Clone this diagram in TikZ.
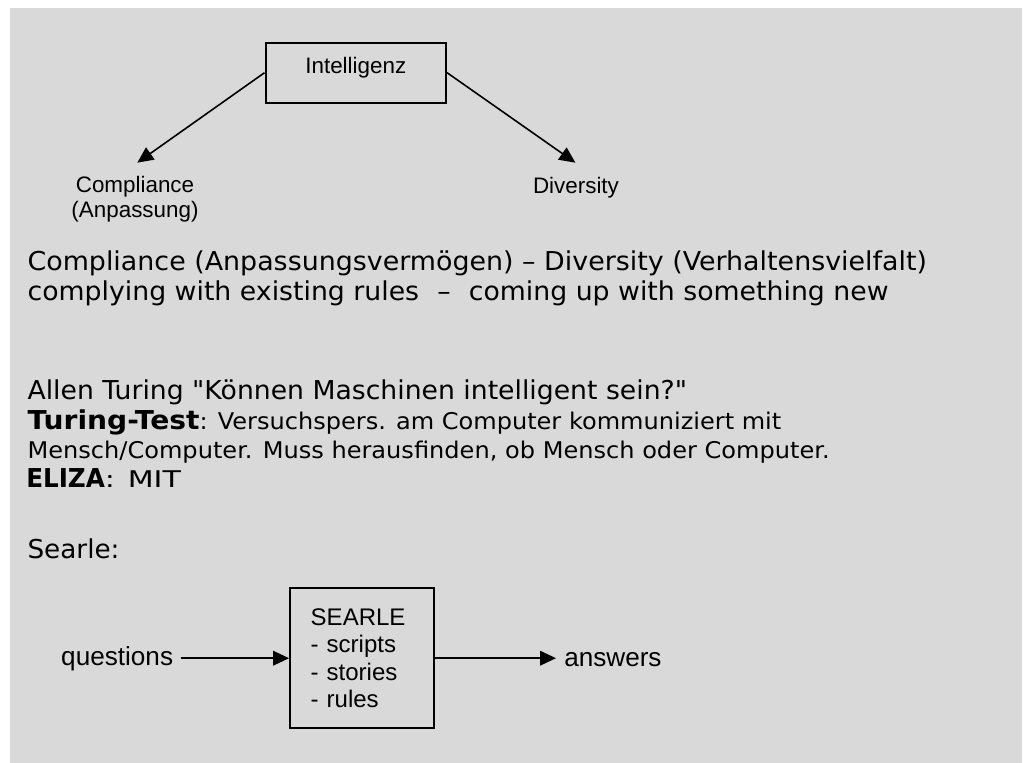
\documentclass[tikz,border=0pt]{standalone}
\usepackage{fontspec}
\usepackage{graphicx}
\usetikzlibrary{arrows.meta}
\newfontfamily\verd{DejaVu Sans}
\newfontfamily\arialf{Liberation Sans}
\definecolor{panel}{RGB}{217,217,217}
% one screen pixel
\newdimen\pxu \pxu=0.75pt
% stretch a run of text to a given width (in pixels), keeping its height
\newcommand\fitw[2]{\resizebox{#1\pxu}{\height}{#2}}
\newcommand\bigtxt{\verd\fontsize{19.5pt}{23pt}\selectfont}
\newcommand\smalltxt{\verd\fontsize{17.25pt}{21pt}\selectfont}
\begin{document}
\begin{tikzpicture}[x=0.75pt,y=-0.75pt,
  txt/.style={anchor=base west, inner sep=0pt},
  labelA/.style={font=\arialf\fontsize{16.8pt}{19pt}\selectfont},
  labelB/.style={font=\arialf\fontsize{18pt}{20.5pt}\selectfont},
  labelC/.style={font=\arialf\fontsize{19.6pt}{22pt}\selectfont},
  frame/.style={draw, line width=1.5pt, inner sep=0pt},
  conn/.style={line width=1.2pt, -{Triangle[length=12pt,width=11pt]}}]
\useasboundingbox (0,0) rectangle (1026,763);
\fill[panel] (10,8) rectangle (1022,763);

% Intelligenz and its two facets
\node[frame, labelA, minimum width=135.4pt, minimum height=45pt,
      text height=11pt, text depth=10pt] (intel) at (355.8,72.7) {Intelligenz};
\coordinate (ctip) at (137.3,162.7);
\coordinate (dtip) at (575.4,162.7);
\draw[conn] (intel.west) -- (ctip);
\draw[conn] (intel.east) -- (dtip);
\node[labelA, align=center, inner sep=0pt] (comp) at (135,199) {Compliance\\(Anpassung)};
\node[labelA, anchor=base, inner sep=0pt] (div) at (576,193.3) {Diversity};

% notes
\node[txt, font=\bigtxt] (l1) at (27.3,270.7)
  {\fitw{899.4}{Compliance (Anpassungsvermögen) – Diversity (Verhaltensvielfalt)}};
\node[txt, font=\bigtxt] (l2) at (27.3,300.5)
  {\fitw{861}{complying with existing rules\hspace{0.68em}–\hspace{0.68em}coming up with something new}};
\node[txt, font=\bigtxt] (l3) at (27.3,400)
  {\fitw{659.4}{Allen Turing "Können Maschinen intelligent sein?"}};
\node[txt, font=\bigtxt] (l4) at (27.3,430)
  {\fitw{172}{\bfseries Turing-Test}\smalltxt\fitw{581.7}{: Versuchspers. am Computer kommuniziert mit}};
\node[txt, font=\smalltxt] (l5) at (27.3,458.3)
  {\fitw{802}{Mensch/Computer. Muss herausfinden, ob Mensch oder Computer.}};
\node[txt, font=\bigtxt] (l6) at (26,487.5)
  {\fitw{78.7}{\bfseries ELIZA}\smalltxt\fitw{76}{: MIT}};
\node[txt, font=\bigtxt] (l7) at (27.3,558.3) {\fitw{92}{Searle:}};

% Searle's room
\node[frame, labelB, align=left, text width=77.2pt, inner xsep=15.5pt, inner ysep=0pt,
      minimum height=104.8pt] (sbox) at (362.2,658.2) {SEARLE\\- scripts\\- stories\\- rules};
\node[labelC, anchor=base east, inner xsep=5.5pt, inner ysep=0pt] (q) at (180.7,665) {questions};
\node[labelC, anchor=base west, inner xsep=6pt, inner ysep=0pt] (ans) at (556,666) {answers};
\draw[conn] (q.east |- sbox.west) -- (sbox.west);
\draw[conn] (sbox.east) -- (ans.west |- sbox.east);
\end{tikzpicture}
\end{document}
